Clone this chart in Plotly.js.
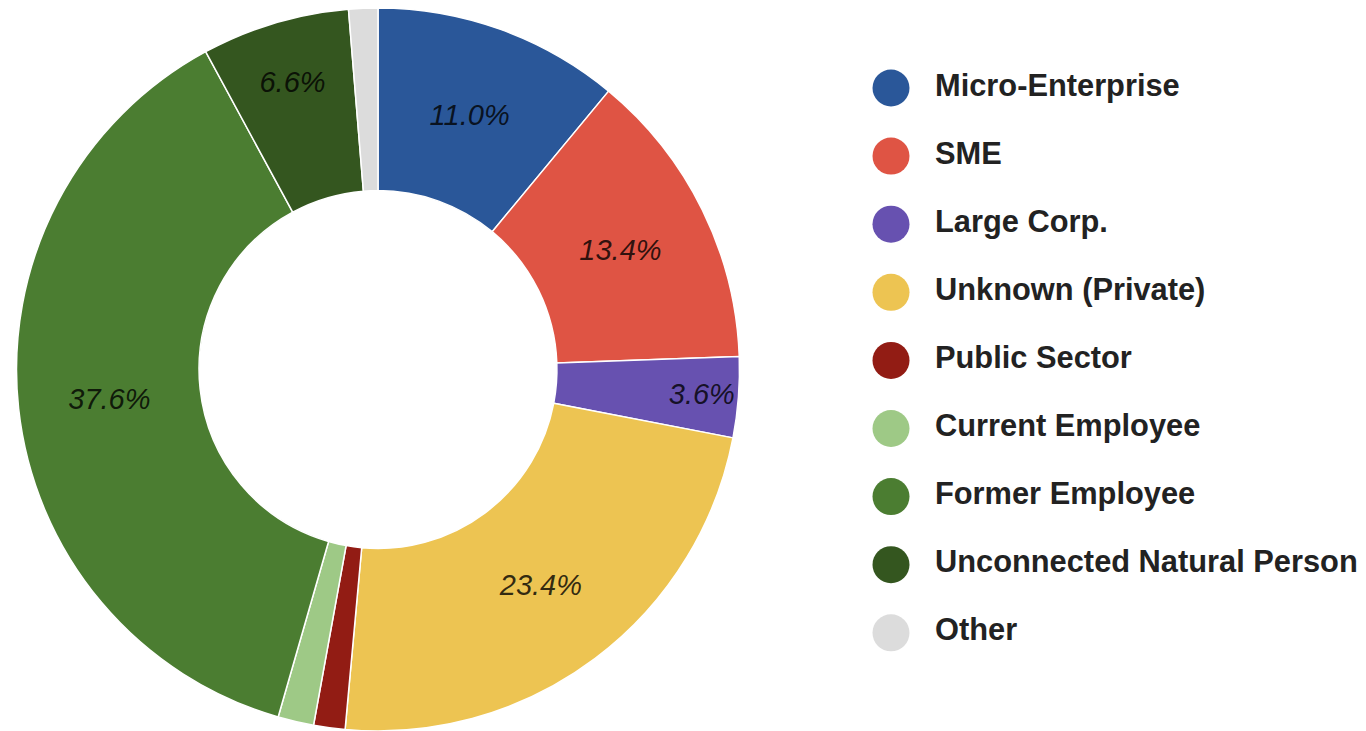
<!DOCTYPE html>
<html>
<head>
<meta charset="utf-8">
<script src="https://cdn.plot.ly/plotly-3.0.1.min.js"></script>
<style>
  html, body { margin: 0; padding: 0; background: #ffffff; }
  #chart { width: 1366px; height: 731px; }
</style>
</head>
<body>
<div id="chart"></div>
<script>
// ---- data ----
const categories = [
  "Micro-Enterprise",
  "SME",
  "Large Corp.",
  "Unknown (Private)",
  "Public Sector",
  "Current Employee",
  "Former Employee",
  "Unconnected Natural Person",
  "Other"
];
const shares = [11.0, 13.4, 3.6, 23.4, 1.4, 1.6, 37.6, 6.6, 1.3];
const colors = [
  "#2a5799", "#df5444", "#6751b0", "#edc452", "#921c14",
  "#9ec986", "#4b7d31", "#34561f", "#dcdcdc"
];
const labelMinShare = 3;

// ---- layout constants ----
const W = 1366, H = 731;
const cx = 378, cy = 370, R = 362;
const legendMarkerX = 891, legendTextX = 935;
const legendTop = 88, legendStep = 68.1;

const pie = {
  type: "pie",
  labels: categories,
  values: shares,
  sort: false,
  direction: "clockwise",
  rotation: 0,
  hole: 0.495,
  marker: { colors: colors, line: { color: "#ffffff", width: 1.5 } },
  texttemplate: shares.map(v => v >= labelMinShare ? "%{percent:.1%}" : ""),
  textposition: "inside",
  insidetextorientation: "horizontal",
  textfont: { family: "Liberation Sans, Arial, sans-serif", size: 29, style: "italic", color: "rgba(0,0,0,0.8)" },
  hoverinfo: "label+percent",
  showlegend: false,
  domain: {
    x: [(cx - R) / W, (cx + R) / W],
    y: [(H - (cy + R)) / H, (H - (cy - R)) / H]
  }
};

const idx = categories.map((_, i) => i);

const legendMarkers = {
  type: "scatter",
  mode: "markers",
  x: categories.map(() => legendMarkerX),
  y: idx,
  marker: { size: 37, color: colors, line: { width: 0 } },
  hoverinfo: "skip",
  showlegend: false,
  cliponaxis: false
};

const legendLabels = {
  type: "scatter",
  mode: "text",
  x: categories.map(() => legendTextX),
  y: idx,
  text: categories,
  textposition: "middle right",
  textfont: { family: "Liberation Sans, Arial, sans-serif", size: 30.8, weight: "bold", color: "#222222" },
  hoverinfo: "skip",
  showlegend: false,
  cliponaxis: false
};

const yTop = -legendTop / legendStep;
const yBottom = (H - legendTop) / legendStep;

const layout = {
  width: W,
  height: H,
  margin: { l: 0, r: 0, t: 0, b: 0, pad: 0 },
  paper_bgcolor: "#ffffff",
  plot_bgcolor: "rgba(0,0,0,0)",
  showlegend: false,
  xaxis: { range: [0, W], visible: false, fixedrange: true, domain: [0, 1] },
  yaxis: { range: [yBottom, yTop], visible: false, fixedrange: true, domain: [0, 1] }
};

Plotly.newPlot("chart", [pie, legendMarkers, legendLabels], layout, { displayModeBar: false, staticPlot: true });
</script>
</body>
</html>
